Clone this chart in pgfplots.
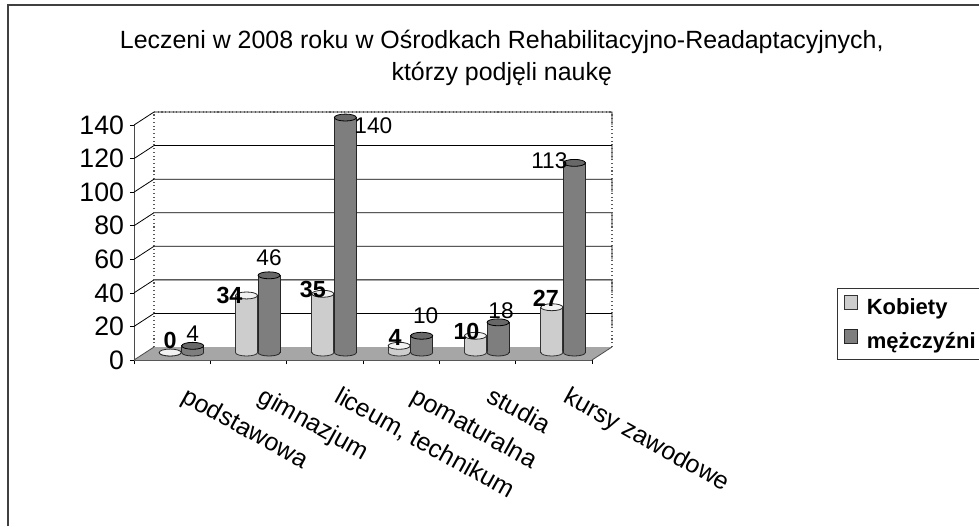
\documentclass[border=0pt]{standalone}
\usepackage{pgfplots}
\usepackage{pgfplotstable}
\pgfplotsset{compat=1.18}
\usepackage{fontspec}
\setmainfont{Liberation Sans}

\definecolor{pale}{HTML}{CDCDCD}
\definecolor{palecap}{HTML}{F2F2F2}
\definecolor{darkbar}{HTML}{7E7E7E}
\definecolor{darkcap}{HTML}{686868}
\definecolor{floorc}{HTML}{A6A6A6}

% cylinder cap and bottom of a bar
\pgfdeclareplotmark{cyltop}{%
  \pgfpathellipse{\pgfpointorigin}{\pgfpoint{8.25pt}{0pt}}{\pgfpoint{0pt}{2.6pt}}%
  \pgfusepathqfillstroke}
\pgfdeclareplotmark{cylbase}{%
  \pgfpathmoveto{\pgfpoint{-7.9pt}{0.7pt}}%
  \pgfpathlineto{\pgfpoint{-7.9pt}{0pt}}%
  \pgfpatharc{180}{360}{7.9pt and 2.6pt}%
  \pgfpathlineto{\pgfpoint{7.9pt}{0.7pt}}%
  \pgfpathclose
  \pgfusepathqfill
  \pgfpathmoveto{\pgfpoint{-8.25pt}{0pt}}%
  \pgfpatharc{180}{360}{8.25pt and 2.6pt}%
  \pgfusepathqstroke}

% cat, values, label offsets from the top of each cylinder (px)
\pgfplotstableread{
x  kob  men  kdx kdy mdx mdy
0  0    4    0   15  0   15
1  34   46   -17 2   0   20
2  35   140  -10 7   28  -6
3  4    10   -4  11  4   23
4  10   18   -9  7   3   14
5  27   113  -6  11  -25 5
}\datatable

\begin{document}
\begin{tikzpicture}
\useasboundingbox (0pt,0pt) rectangle (734.25pt,-394.5pt);
\draw[line width=0.8pt,black!75] (6pt,-394.5pt) -- (6pt,-3.75pt) -- (734.25pt,-3.75pt);
\begin{axis}[
  at={(100.5pt,-270pt)}, anchor=south west,
  scale only axis, width=343.5pt, height=176.25pt,
  xmin=-0.5, xmax=5.5, ymin=0, ymax=140,
  clip=false,
  axis x line*=bottom, axis y line*=left,
  axis line style={black!70,line width=0.7pt},
  tick align=outside, tick style={black,line width=0.5pt},
  major tick length=3pt,
  xtick={-0.5,0.5,1.5,2.5,3.5,4.5,5.5}, xticklabels={},
  extra x ticks={0,1,2,3,4,5},
  extra x tick labels={podstawowa,gimnazjum,{liceum, technikum},pomaturalna,studia,kursy zawodowe},
  extra x tick style={major tick length=0pt,
    xticklabel style={rotate=-29,anchor=north west,font=\fontsize{18.8}{22}\selectfont,xshift=17pt,yshift=-7pt}},
  ytick={0,20,...,140},
  yticklabel style={font=\fontsize{20}{24}\selectfont,xshift=-1pt},
  /pgf/number format/assume math mode=true,
  title={Leczeni w 2008 roku w Ośrodkach Rehabilitacyjno-Readaptacyjnych,\\[3pt]którzy podjęli naukę},
  title style={at={(axis description cs:0.803,1.25)},anchor=center,align=center,
    font=\fontsize{18.7}{21}\selectfont},
  legend style={at={(axis description cs:1.535,0.306)},anchor=north west,
    draw=black!80,line width=0.7pt,font=\bfseries\fontsize{16.5}{22}\selectfont,
    row sep=8pt,inner xsep=3pt,inner ysep=5pt},
  legend cell align=left,
  legend image code/.code={\path[draw=none,fill=none] (0pt,0pt) -- (17pt,0pt);\draw[#1,line width=0.7pt] (2pt,-7pt) rectangle (12pt,3pt);},
  nodes near coords style={font=\fontsize{17}{20}\selectfont,anchor=center},
]
% floor and walls
\fill[floorc] (axis cs:-0.5,0) -- ([shift={(15pt,9.75pt)}]axis cs:-0.5,0)
   -- ([shift={(15pt,9.75pt)}]axis cs:5.5,0) -- (axis cs:5.5,0) -- cycle;
\pgfplotsinvokeforeach{20,40,...,140}{
  \draw[black,line width=0.6pt] (axis cs:-0.5,#1) -- ([shift={(15pt,9.75pt)}]axis cs:-0.5,#1)
     -- ([shift={(15pt,9.75pt)}]axis cs:5.5,#1) -- ([shift={(15pt,0pt)}]axis cs:5.5,#1) ;
}
\draw[black!65,dotted,line width=0.8pt] ([shift={(15pt,9.75pt)}]axis cs:-0.5,0) -- ([shift={(15pt,9.75pt)}]axis cs:-0.5,140);
\draw[black!65,dotted,line width=0.8pt] ([shift={(15pt,9.75pt)}]axis cs:5.5,0) -- ([shift={(15pt,9.75pt)}]axis cs:5.5,140);
\draw[black!65,dotted,line width=0.8pt] ([shift={(15pt,9.75pt)}]axis cs:-0.5,140) -- ([shift={(15pt,9.75pt)}]axis cs:5.5,140);
\draw[black!70,line width=0.6pt] (axis cs:5.5,0) -- ([shift={(15pt,9.75pt)}]axis cs:5.5,0);
\draw[black!70,line width=0.6pt] (axis cs:-0.5,0) -- ([shift={(15pt,9.75pt)}]axis cs:-0.5,0);

% Kobiety
\addplot[ybar,bar width=16.5pt,bar shift=-1.5pt,yshift=5.6pt,draw=black!80,fill=pale,line width=0.6pt]
  table[x=x,y=kob] {\datatable};
\addlegendentry{Kobiety}
\addplot[forget plot,only marks,xshift=-1.5pt,yshift=5.6pt,mark=cylbase,mark options={draw=black!80,fill=pale,line width=0.6pt}]
  table[x=x,y expr=0] {\datatable};
\addplot[forget plot,only marks,xshift=-1.5pt,yshift=5.6pt,mark=cyltop,mark options={draw=black!85,fill=palecap,line width=0.6pt}]
  table[x=x,y=kob] {\datatable};
% mężczyźni
\addplot[ybar,bar width=16.5pt,bar shift=15.4pt,yshift=5.6pt,draw=black!85,fill=darkbar,line width=0.6pt]
  table[x=x,y=men] {\datatable};
\addlegendentry{mężczyźni}
\addplot[forget plot,only marks,xshift=15.4pt,yshift=5.6pt,mark=cylbase,mark options={draw=black!85,fill=darkbar,line width=0.6pt}]
  table[x=x,y expr=0] {\datatable};
\addplot[forget plot,only marks,xshift=15.4pt,yshift=5.6pt,mark=cyltop,mark options={draw=black,fill=darkcap,line width=0.6pt}]
  table[x=x,y=men] {\datatable};
% value labels last, on top of the bars
\addplot[forget plot,only marks,mark=none,xshift=-1.5pt,yshift=3.75pt,
  visualization depends on={\thisrow{kdx}\as\ldx},visualization depends on={\thisrow{kdy}\as\ldy},
  nodes near coords,point meta=explicit symbolic,
  nodes near coords style={font=\bfseries\fontsize{17.5}{20}\selectfont},
  every node near coord/.append style={xshift=0.75*\ldx pt,yshift=0.75*\ldy pt}]
  table[x=x,y=kob,meta=kob] {\datatable};
\addplot[forget plot,only marks,mark=none,xshift=15.4pt,yshift=3.75pt,
  visualization depends on={\thisrow{mdx}\as\ldx},visualization depends on={\thisrow{mdy}\as\ldy},
  nodes near coords,point meta=explicit symbolic,
  every node near coord/.append style={xshift=0.75*\ldx pt,yshift=0.75*\ldy pt}]
  table[x=x,y=men,meta=men] {\datatable};
\end{axis}
\end{tikzpicture}
\end{document}
